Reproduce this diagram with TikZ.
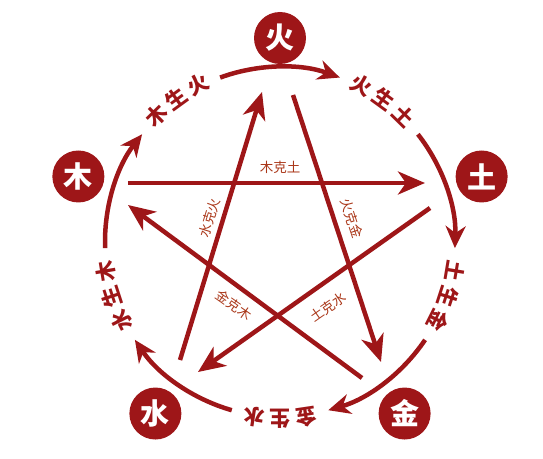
\documentclass[tikz,border=0pt]{standalone}
\usepackage{fontspec}
\newfontfamily\cjk{Noto Sans CJK SC}
\usetikzlibrary{arrows.meta}
\definecolor{wxred}{RGB}{158,22,24}
\definecolor{kebrown}{RGB}{170,55,25}

\begin{document}
\begin{tikzpicture}[x=1pt, y=1pt,
    elem/.style={circle, fill=wxred, text=white, minimum size=52pt, inner sep=0pt,
        font=\cjk\bfseries\fontsize{29}{29}\selectfont},
    sheng/.style={wxred, line width=4.5pt, -{Stealth[length=22pt, width=20pt, inset=7pt]}},
    ke/.style={wxred, line width=4.5pt, -{Stealth[length=27pt, width=23pt, inset=8pt]}},
    shenglabel/.style={text=wxred, inner sep=0pt, font=\cjk\bfseries\fontsize{21}{21}\selectfont},
    kelabel/.style={text=kebrown, inner sep=1pt, font=\cjk\fontsize{13.5}{13.5}\selectfont}]
    \useasboundingbox (-280,-216) rectangle (263,242);

    % Elementos
    \node[elem] (huo) at (90:204) {火};
    \node[elem] (tu) at (18:212) {土};
    \node[elem] (jin) at (-54:212) {金};
    \node[elem] (shui) at (-126:212) {水};
    \node[elem] (mu) at (162:212) {木};

    % Ciclo de geração
    \foreach \a [count=\i] in {90,18,-54,-126,162} {
        \coordinate (ring\i) at (\a+20:175);
        \draw[sheng] (ring\i) arc[start angle=\a+20, end angle=\a-20, radius=175];
    }
    \foreach \t/\p/\q [count=\i] in {126/木/火, 54/火/土, -18/土/金, -90/金/水, -162/水/木} {
        \node[shenglabel, rotate=\t+8.5-90] (sa\i) at (\t+8.5:177) {\p};
        \node[shenglabel, rotate=\t-90] (sb\i) at (\t:177) {生};
        \node[shenglabel, rotate=\t-8.5-90] (sc\i) at (\t-8.5:177) {\q};
    }

    % Ciclo de controle
    \coordinate (muA) at (-152,59);     \coordinate (tuB) at (145,59);
    \coordinate (huoA) at (13,147);     \coordinate (jinB) at (101,-120);
    \coordinate (jinA) at (82,-136);    \coordinate (muB) at (-152,37);
    \coordinate (tuA) at (150,34);      \coordinate (shuiB) at (-82,-130);
    \coordinate (shuiA) at (-100,-118); \coordinate (huoB) at (-18,150);
    \draw[ke] (muA) -- (tuB);
    \draw[ke] (huoA) -- (jinB);
    \draw[ke] (jinA) -- (muB);
    \draw[ke] (tuA) -- (shuiB);
    \draw[ke] (shuiA) -- (huoB);

    \node[kelabel] (mukt) at (0,75) {木克土};
    \node[kelabel, rotate=73] (shuikh) at (-70,24) {水克火};
    \node[kelabel, rotate=-72] (huokj) at (72,24) {火克金};
    \node[kelabel, rotate=-35] (jinkm) at (-46,-63) {金克木};
    \node[kelabel, rotate=35] (tuks) at (48,-65) {土克水};
\end{tikzpicture}
\end{document}
